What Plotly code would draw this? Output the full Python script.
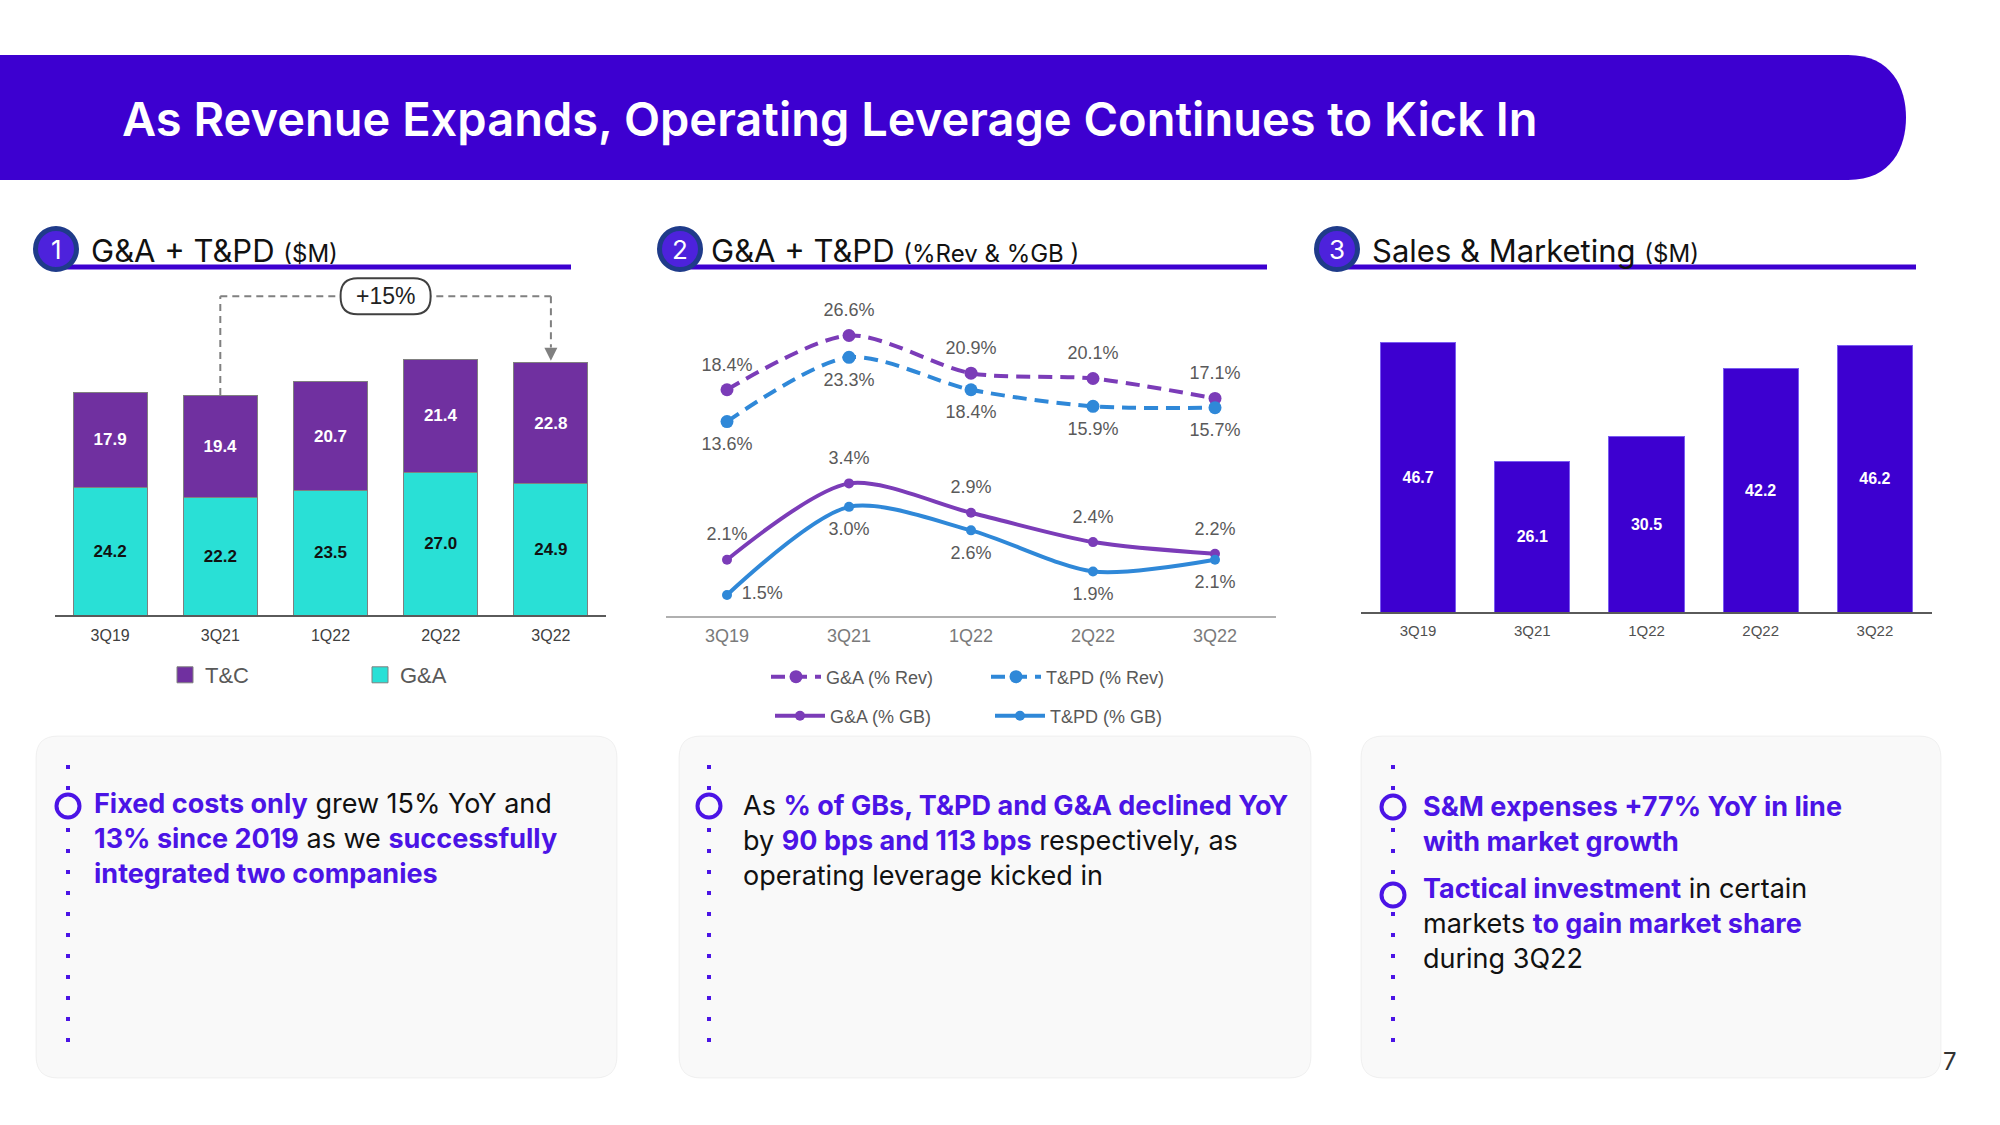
import plotly.graph_objects as go

W, H = 2000, 1125

# ---------------- data ----------------
quarters = ["3Q19", "3Q21", "1Q22", "2Q22", "3Q22"]
tc_values = [17.9, 19.4, 20.7, 21.4, 22.8]      # T&C ($M)
ga_values = [24.2, 22.2, 23.5, 27.0, 24.9]      # G&A ($M)
ga_pct_rev = [18.4, 26.6, 20.9, 20.1, 17.1]     # G&A (% Rev)
tpd_pct_rev = [13.6, 23.3, 18.4, 15.9, 15.7]    # T&PD (% Rev)
ga_pct_gb = [2.1, 3.4, 2.9, 2.4, 2.2]           # G&A (% GB)
tpd_pct_gb = [1.5, 3.0, 2.6, 1.9, 2.1]          # T&PD (% GB)
sm_values = [46.7, 26.1, 30.5, 42.2, 46.2]      # Sales & Marketing ($M)
growth_label = "+15%"

# ---------------- styles ----------------
BRAND = "#3d00d0"
ACCENT = "#4b14e6"
TC_COLOR = "#7030a0"
GA_COLOR = "#29e0d6"
L_PURPLE = "#7b3cb8"
L_BLUE = "#2f88d8"
SANS = "Liberation Sans, Arial, sans-serif"
NARROW = "Liberation Sans Narrow, Arial Narrow, Liberation Sans, Arial"
UI = "Inter, Roboto, sans-serif"
BOX_FILL = "#f9f9f9"


def PX(x):
    return x / W


def PY(y):
    return 1 - y / H


# panel geometry (pixels)
P1 = dict(x0=55, x1=606, yb=615, yt=282, r=(0, 63))
P2 = dict(x0=666, x1=1276, yb=616, yt=300)
P3 = dict(x0=1361, x1=1932, yb=612, yt=295, r=(0, 55))
GB_RANGE = (1.141, 6.524)
REV_RANGE = (-15.77, 31.96)


def p1_x(i):
    return P1["x0"] + (i + 0.5) / 5 * (P1["x1"] - P1["x0"])


def p1_y(v):
    return P1["yb"] - (v - P1["r"][0]) / (P1["r"][1] - P1["r"][0]) * (P1["yb"] - P1["yt"])


def rrect(x0, y0, x1, y1, r):
    return (f"M {PX(x0 + r)},{PY(y0)} L {PX(x1 - r)},{PY(y0)} "
            f"Q {PX(x1)},{PY(y0)} {PX(x1)},{PY(y0 + r)} "
            f"L {PX(x1)},{PY(y1 - r)} Q {PX(x1)},{PY(y1)} {PX(x1 - r)},{PY(y1)} "
            f"L {PX(x0 + r)},{PY(y1)} Q {PX(x0)},{PY(y1)} {PX(x0)},{PY(y1 - r)} "
            f"L {PX(x0)},{PY(y0 + r)} Q {PX(x0)},{PY(y0)} {PX(x0 + r)},{PY(y0)} Z")


fig = go.Figure()

# ---------------- panel 1: stacked bars ----------------
fig.add_trace(go.Bar(
    x=quarters, y=ga_values, name="G&A", width=0.67, showlegend=False,
    marker=dict(color=GA_COLOR, line=dict(color="#808080", width=1)),
    texttemplate="<b>%{y:.1f}</b>", textposition="inside", insidetextanchor="middle",
    textangle=0, textfont=dict(color="#111111", size=17, family=NARROW),
    xaxis="x", yaxis="y", hoverinfo="skip"))
fig.add_trace(go.Bar(
    x=quarters, y=tc_values, name="T&C", width=0.67, showlegend=False,
    marker=dict(color=TC_COLOR, line=dict(color="#808080", width=1)),
    texttemplate="<b>%{y:.1f}</b>", textposition="inside", insidetextanchor="middle",
    textangle=0, textfont=dict(color="white", size=17, family=NARROW),
    xaxis="x", yaxis="y", hoverinfo="skip"))
# legend-only entries (larger square swatches)
for nm, col in [("T&C", TC_COLOR), ("G&A", GA_COLOR)]:
    fig.add_trace(go.Scatter(
        x=[None], y=[None], mode="markers", name=nm,
        marker=dict(symbol="square", size=16, color=col, line=dict(color="#808080", width=1)),
        xaxis="x", yaxis="y", legend="legend", hoverinfo="skip"))

# ---------------- panel 2: lines ----------------
series2 = [
    ("G&A (% Rev)", ga_pct_rev, L_PURPLE, "y3", "legend2", "14px,8px", 13,
     ["top center"] * 5),
    ("T&PD (% Rev)", tpd_pct_rev, L_BLUE, "y3", "legend2", "14px,8px", 13,
     ["bottom center"] * 5),
    ("G&A (% GB)", ga_pct_gb, L_PURPLE, "y2", "legend3", "solid", 10,
     ["top center"] * 5),
    ("T&PD (% GB)", tpd_pct_gb, L_BLUE, "y2", "legend3", "solid", 10,
     ["middle right"] + ["bottom center"] * 4),
]
for name, vals, col, yax, leg, dash, msize, tpos in series2:
    fig.add_trace(go.Scatter(
        x=quarters, y=vals, name=name, mode="lines+markers",
        line=dict(color=col, width=4, dash=dash, shape="spline", smoothing=0.8),
        marker=dict(size=msize, color=col),
        xaxis="x2", yaxis=yax, legend=leg, hoverinfo="skip", cliponaxis=False))
    fig.add_trace(go.Scatter(
        x=quarters, y=vals, mode="markers+text", showlegend=False,
        marker=dict(size=22, color="rgba(0,0,0,0)"),
        texttemplate="%{y:.1f}%", textposition=tpos,
        textfont=dict(size=18, color="#5a5a5a", family=SANS),
        xaxis="x2", yaxis=yax, hoverinfo="skip", cliponaxis=False))

# ---------------- panel 3: bars ----------------
fig.add_trace(go.Bar(
    x=quarters, y=sm_values, name="S&M", width=0.66, showlegend=False,
    marker=dict(color=BRAND, line=dict(color="#7a5cf0", width=1)),
    texttemplate="<b>%{y:.1f}</b>", textposition="inside", insidetextanchor="middle",
    textangle=0, textfont=dict(color="white", size=16, family=NARROW),
    xaxis="x3", yaxis="y4", hoverinfo="skip"))

# ---------------- axes ----------------
common_x = dict(type="category", range=[-0.5, 4.5], showgrid=False, zeroline=False,
                ticks="", showline=True, fixedrange=True)
fig.update_layout(
    xaxis=dict(domain=[PX(P1["x0"]), PX(P1["x1"])], anchor="y", linecolor="#5a5a5a", linewidth=1.5,
               tickfont=dict(size=16, color="#404040", family=SANS), ticklabelstandoff=5,
               **common_x),
    yaxis=dict(domain=[PY(P1["yb"]), PY(P1["yt"])], anchor="x", range=list(P1["r"]), visible=False,
               fixedrange=True),
    xaxis2=dict(domain=[PX(P2["x0"]), PX(P2["x1"])], anchor="y2", linecolor="#b0b0b0", linewidth=2,
                tickfont=dict(size=18, color="#7a7a7a", family=SANS), ticklabelstandoff=2,
                **common_x),
    yaxis2=dict(domain=[PY(P2["yb"]), PY(P2["yt"])], anchor="x2", range=list(GB_RANGE), visible=False,
                fixedrange=True),
    yaxis3=dict(overlaying="y2", anchor="x2", range=list(REV_RANGE), visible=False, fixedrange=True),
    xaxis3=dict(domain=[PX(P3["x0"]), PX(P3["x1"])], anchor="y4", linecolor="#5a5a5a", linewidth=2,
                tickfont=dict(size=15, color="#505050", family=SANS), ticklabelstandoff=4,
                **common_x),
    yaxis4=dict(domain=[PY(P3["yb"]), PY(P3["yt"])], anchor="x3", range=list(P3["r"]), visible=False,
                fixedrange=True),
)

# ---------------- legends ----------------
fig.update_layout(
    legend=dict(orientation="h", x=PX(165), y=PY(675), xanchor="left", yanchor="middle",
                font=dict(size=22, color="#595959", family=SANS), entrywidth=150,
                entrywidthmode="pixels", traceorder="normal", bgcolor="rgba(0,0,0,0)"),
    legend2=dict(orientation="h", x=PX(766), y=PY(677), xanchor="left", yanchor="middle",
                 font=dict(size=18, color="#595959", family=SANS), entrywidth=155,
                 entrywidthmode="pixels", itemwidth=50, traceorder="normal",
                 bgcolor="rgba(0,0,0,0)"),
    legend3=dict(orientation="h", x=PX(770), y=PY(716), xanchor="left", yanchor="middle",
                 font=dict(size=18, color="#595959", family=SANS), entrywidth=155,
                 entrywidthmode="pixels", itemwidth=50, traceorder="normal",
                 bgcolor="rgba(0,0,0,0)"),
)

shapes = []
annotations = []

# title bar
shapes.append(dict(
    type="path", xref="paper", yref="paper", fillcolor=BRAND, line=dict(width=0), layer="below",
    path=(f"M {PX(0)},{PY(55)} L {PX(1848)},{PY(55)} "
          f"C {PX(1892)},{PY(55)} {PX(1906)},{PY(88)} {PX(1906)},{PY(117.5)} "
          f"C {PX(1906)},{PY(147)} {PX(1892)},{PY(180)} {PX(1848)},{PY(180)} "
          f"L {PX(0)},{PY(180)} Z")))
annotations.append(dict(
    text="As Revenue Expands, Operating Leverage Continues to Kick In",
    x=PX(120), y=PY(118), xref="paper", yref="paper", xanchor="left", yanchor="middle",
    showarrow=False, font=dict(size=47, color="white", family=UI, weight=600)))

# panel headers
headers = [
    (56, 89, 571, "1", "G&A + T&PD <span style='font-size:24px'>($M)</span>"),
    (680, 709, 1267, "2", "G&A + T&PD <span style='font-size:24px'>(%Rev & %GB )</span>"),
    (1337, 1370, 1916, "3", "Sales & Marketing <span style='font-size:24px'>($M)</span>"),
]
for cx, tx, ux1, num, txt in headers:
    shapes.append(dict(type="line", xref="paper", yref="paper", x0=PX(cx + 8), x1=PX(ux1),
                       y0=PY(267), y1=PY(267), line=dict(color=BRAND, width=5)))
    r = 20.5
    shapes.append(dict(type="circle", xref="paper", yref="paper", x0=PX(cx - r), x1=PX(cx + r),
                       y0=PY(249 + r), y1=PY(249 - r), fillcolor="#4d22dc",
                       line=dict(color="#1f3b8a", width=5)))
    annotations.append(dict(text=num, x=PX(cx), y=PY(249), xref="paper", yref="paper",
                            xanchor="center", yanchor="middle",
                            showarrow=False, font=dict(size=26, color="white", family=UI)))
    annotations.append(dict(text=txt, x=PX(tx), y=PY(250), xref="paper", yref="paper",
                            xanchor="left", yanchor="middle", showarrow=False,
                            font=dict(size=31, color="#111111", family=UI)))

# +15% bracket on panel 1
totals = [a + b for a, b in zip(tc_values, ga_values)]
bracket_y = 60.3
dash_line = dict(color="#808080", width=2, dash="7px,5px")
shapes.append(dict(type="line", xref="x", yref="y", x0=quarters[1], x1=quarters[1],
                   y0=totals[1], y1=bracket_y, line=dash_line))
shapes.append(dict(type="line", xref="x", yref="y", x0=quarters[1], x1=quarters[4],
                   y0=bracket_y, y1=bracket_y, line=dash_line))
shapes.append(dict(type="line", xref="x", yref="y", x0=quarters[4], x1=quarters[4],
                   y0=bracket_y, y1=totals[4] + 3, line=dash_line))
annotations.append(dict(x=quarters[4], y=totals[4] + 0.4, ax=quarters[4], ay=totals[4] + 3.2,
                        xref="x", yref="y", axref="x", ayref="y", text="", showarrow=True,
                        arrowhead=2, arrowsize=1.3, arrowwidth=2, arrowcolor="#808080"))
pcx, pcy = p1_x(2.5), p1_y(bracket_y)
shapes.append(dict(type="path", xref="paper", yref="paper", fillcolor="white",
                   line=dict(color="#404040", width=2),
                   path=rrect(pcx - 45, pcy - 18, pcx + 45, pcy + 18, 17)))
annotations.append(dict(text=growth_label, x=PX(pcx), y=PY(pcy), xref="paper", yref="paper",
                        xanchor="center", yanchor="middle",
                        showarrow=False, font=dict(size=23, color="#222222", family=SANS)))

# text boxes
boxes = [(36, 617, 68), (679, 1311, 709), (1361, 1941, 1393)]
for bx0, bx1, dx in boxes:
    shapes.append(dict(type="path", xref="paper", yref="paper", fillcolor=BOX_FILL,
                       line=dict(color="rgba(0,0,0,0.05)", width=1), layer="below",
                       path=rrect(bx0, 736, bx1, 1078, 22)))
    shapes.append(dict(type="line", xref="paper", yref="paper", x0=PX(dx), x1=PX(dx),
                       y0=PY(765), y1=PY(1056), line=dict(color=ACCENT, width=4, dash="4px,17px")))

for cx, cy in [(68, 806), (709, 806), (1393, 807), (1393, 895)]:
    r = 11.5
    shapes.append(dict(type="circle", xref="paper", yref="paper", x0=PX(cx - r), x1=PX(cx + r),
                       y0=PY(cy + r), y1=PY(cy - r), fillcolor=BOX_FILL,
                       line=dict(color=ACCENT, width=4)))


def hl(s):
    return f"<b><span style='color:{ACCENT}'>{s}</span></b>"


box_texts = [
    (92, 838, hl("Fixed costs only") + " grew 15% YoY and<br>" + hl("13% since 2019") +
     " as we " + hl("successfully") + "<br>" + hl("integrated two companies")),
    (741, 840, "As " + hl("% of GBs, T&PD and G&A declined YoY") + "<br>by " +
     hl("90 bps and 113 bps") + " respectively, as<br>operating leverage kicked in"),
    (1421, 823.5, hl("S&M expenses +77% YoY in line") + "<br>" + hl("with market growth")),
    (1421, 923, hl("Tactical investment") + " in certain<br>markets " +
     hl("to gain market share") + "<br>during 3Q22"),
]
for tx, ty, txt in box_texts:
    annotations.append(dict(text=txt, x=PX(tx), y=PY(ty), xref="paper", yref="paper",
                            xanchor="left", yanchor="middle", align="left", showarrow=False,
                            font=dict(size=27, color="#111111", family=UI)))

annotations.append(dict(text="7", x=PX(1950), y=PY(1061), xref="paper", yref="paper",
                        xanchor="center", yanchor="middle",
                        showarrow=False, font=dict(size=24, color="#333333", family=UI)))

fig.update_layout(
    width=W, height=H, margin=dict(l=0, r=0, t=0, b=0),
    paper_bgcolor="white", plot_bgcolor="rgba(0,0,0,0)",
    barmode="stack", hovermode=False,
    shapes=shapes, annotations=annotations,
)

fig.write_html("out.html", config={"displayModeBar": False},
               post_script="document.body.style.margin='0px';")
